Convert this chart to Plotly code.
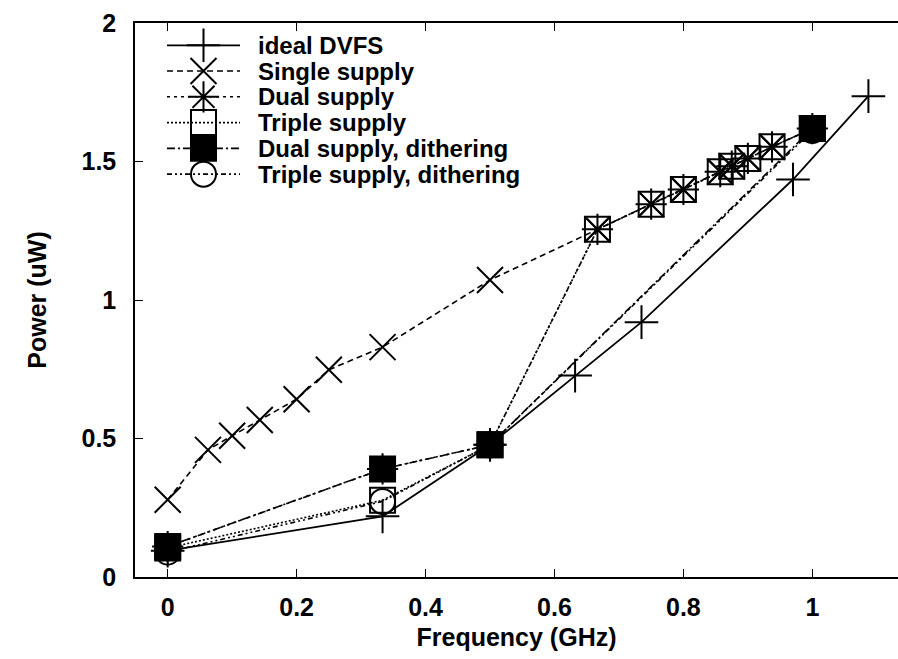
import plotly.graph_objects as go

# Frequency (GHz) sample points
x_ideal = [0.0, 1/3, 0.5, 0.632, 0.735, 0.970, 1.087]
y_ideal = [0.095, 0.219, 0.477, 0.727, 0.920, 1.435, 1.736]

x_single = [0.0, 1/16, 0.1, 1/7, 0.2, 0.25, 1/3, 0.5, 2/3, 0.75, 0.8, 6/7, 7/8, 0.9, 15/16, 1.0]
y_single = [0.279, 0.459, 0.510, 0.567, 0.642, 0.748, 0.830, 1.072, 1.255, 1.346, 1.399, 1.463, 1.483, 1.511, 1.553, 1.619]

x_dual = [0.0, 1/3, 0.5, 2/3, 0.75, 0.8, 6/7, 7/8, 0.9, 15/16, 1.0]
y_dual = [0.11, 0.39, 0.477, 1.255, 1.346, 1.399, 1.463, 1.483, 1.511, 1.553, 1.619]

x_triple = [0.0, 1/3, 0.5, 2/3, 0.75, 0.8, 6/7, 7/8, 0.9, 15/16, 1.0]
y_triple = [0.105, 0.277, 0.477, 1.255, 1.346, 1.399, 1.463, 1.483, 1.511, 1.553, 1.619]

x_dual_dith = [0.0, 1/3, 0.5, 1.0]
y_dual_dith = [0.11, 0.39, 0.477, 1.619]

x_triple_dith = [0.0, 1/3, 0.5, 1.0]
y_triple_dith = [0.09, 0.273, 0.477, 1.612]

series_names = ["ideal DVFS", "Single supply", "Dual supply", "Triple supply",
                "Dual supply, dithering", "Triple supply, dithering"]

x_ticks = [0, 0.2, 0.4, 0.6, 0.8, 1]
x_tick_text = ["0", "0.2", "0.4", "0.6", "0.8", "1"]
y_ticks = [0, 0.5, 1, 1.5, 2]
y_tick_text = ["0", "0.5", "1", "1.5", "2"]

FONT = "Liberation Sans"
BLACK = "black"

styles = [
    dict(dash="solid", symbol="cross-thin", size=24, color="rgba(0,0,0,0)"),
    dict(dash="6px,4px", symbol="x-thin", size=26, color="rgba(0,0,0,0)"),
    dict(dash="3px,4px", symbol="asterisk", size=26, color="rgba(0,0,0,0)"),
    dict(dash="2px,2px", symbol="square-open", size=25, color=BLACK),
    dict(dash="8px,3px,2px,3px", symbol="square", size=25, color=BLACK),
    dict(dash="5px,3px,2px,3px,2px,3px", symbol="circle-open", size=25, color=BLACK),
]

data = [(x_ideal, y_ideal), (x_single, y_single), (x_dual, y_dual),
        (x_triple, y_triple), (x_dual_dith, y_dual_dith), (x_triple_dith, y_triple_dith)]

fig = go.Figure()

for (xs, ys), name, st in zip(data, series_names, styles):
    fig.add_trace(go.Scatter(
        x=xs, y=ys, name=name, mode="lines+markers",
        line=dict(color=BLACK, width=1.8 if st["dash"] == "solid" else 1.6, dash=st["dash"]),
        marker=dict(symbol=st["symbol"], size=st["size"], color=st["color"],
                    line=dict(color=BLACK, width=2)),
        showlegend=False,
    ))

# Key drawn in plot-pixel coordinates on an overlay axis pair
key_x0, key_x1, key_xm, key_text_x = 167, 240, 203.5, 256
key_top, key_step = 45.0, 25.8
for i, (name, st) in enumerate(zip(series_names, styles)):
    ry = key_top + i * key_step
    fig.add_trace(go.Scatter(
        x=[key_x0, key_x1], y=[ry, ry], mode="lines", xaxis="x3", yaxis="y3",
        line=dict(color=BLACK, width=1.8 if st["dash"] == "solid" else 1.6, dash=st["dash"]),
        showlegend=False, hoverinfo="skip"))
    fig.add_trace(go.Scatter(
        x=[key_xm], y=[ry], mode="markers", xaxis="x3", yaxis="y3",
        marker=dict(symbol=st["symbol"], size=st["size"], color=st["color"],
                    line=dict(color=BLACK, width=2)),
        showlegend=False, hoverinfo="skip"))
    fig.add_annotation(x=key_text_x, y=ry, xref="x3", yref="y3", text=name,
                       showarrow=False, xanchor="left", yanchor="middle",
                       font=dict(family=FONT, size=24, color=BLACK, weight="bold"))

X_RANGE = [-0.0507, 1.1329]
tick_font = dict(family=FONT, size=25, color=BLACK, weight="bold")

fig.update_layout(
    width=898, height=659,
    margin=dict(l=135, r=0, t=23, b=82),
    paper_bgcolor="white", plot_bgcolor="white",
    showlegend=False,
    xaxis=dict(range=X_RANGE, tickvals=x_ticks, ticktext=x_tick_text,
               ticks="inside", ticklen=8, tickwidth=1.2, tickcolor=BLACK,
               showline=True, linecolor=BLACK, linewidth=1.5,
               showgrid=False, zeroline=False, tickfont=tick_font,
               ticklabelstandoff=7,
               title=dict(text="Frequency (GHz)", font=tick_font, standoff=9)),
    xaxis2=dict(range=X_RANGE, overlaying="x", side="top", tickvals=x_ticks,
                ticks="inside", ticklen=8, tickwidth=1.2, tickcolor=BLACK,
                showline=True, linecolor=BLACK, linewidth=1.5,
                showticklabels=False, showgrid=False, zeroline=False),
    yaxis=dict(range=[0, 2], tickvals=y_ticks, ticktext=y_tick_text,
               ticks="inside", ticklen=8, tickwidth=1.2, tickcolor=BLACK,
               showline=True, linecolor=BLACK, linewidth=1.5,
               showgrid=False, zeroline=False, tickfont=tick_font,
               ticklabelstandoff=12,
               title=dict(text="Power (uW)", font=tick_font, standoff=28)),
    xaxis3=dict(range=[135, 898], overlaying="x", visible=False, domain=[0, 1]),
    yaxis3=dict(range=[577.3, 22.7], overlaying="y", visible=False, anchor="x3"),
)
# keeps the mirrored top axis drawn
fig.add_trace(go.Scatter(x=[None], y=[None], xaxis="x2", showlegend=False))

fig.write_html("out.html")
